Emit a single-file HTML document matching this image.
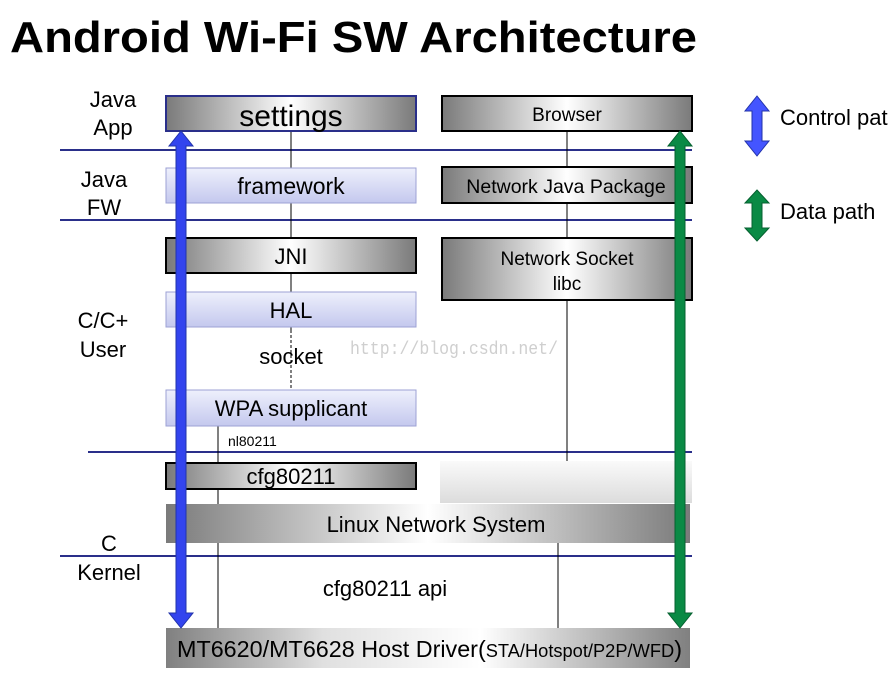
<!DOCTYPE html>
<html><head><meta charset="utf-8"><style>
html,body{margin:0;padding:0;background:#fff;}
svg{display:block;font-family:"Liberation Sans",Arial,sans-serif;}
</style></head><body>
<svg width="890" height="673" viewBox="0 0 890 673" xmlns="http://www.w3.org/2000/svg">
<defs>
<linearGradient id="gh" x1="0" x2="1" y1="0" y2="0">
<stop offset="0" stop-color="#7a7a7a"/><stop offset="0.5" stop-color="#ffffff"/><stop offset="1" stop-color="#7a7a7a"/>
</linearGradient>
<linearGradient id="gh2" x1="0" x2="1" y1="0" y2="0">
<stop offset="0" stop-color="#808080"/><stop offset="0.3" stop-color="#e0e0e0"/><stop offset="0.6" stop-color="#ffffff"/><stop offset="1" stop-color="#808080"/>
</linearGradient>
<linearGradient id="gl" x1="0" x2="0" y1="0" y2="1">
<stop offset="0" stop-color="#fafafa"/><stop offset="1" stop-color="#dcdcdc"/>
</linearGradient>
<linearGradient id="gb" x1="0" x2="0" y1="0" y2="1">
<stop offset="0" stop-color="#eef0fc"/><stop offset="1" stop-color="#c4c8ee"/>
</linearGradient>
</defs>
<text x="10" y="52" font-size="44" font-weight="bold" textLength="687" lengthAdjust="spacingAndGlyphs" fill="#000">Android Wi-Fi SW Architecture</text>

<g stroke="#2a2f8a" stroke-width="2">
<line x1="60" y1="150" x2="692" y2="150"/>
<line x1="60" y1="220" x2="692" y2="220"/>
<line x1="88" y1="452" x2="692" y2="452"/>
<line x1="60" y1="556" x2="692" y2="556"/>
</g>

<g stroke="#000" stroke-width="1">
<line x1="291" y1="131" x2="291" y2="330"/>
<line x1="291" y1="330" x2="291" y2="390" stroke-dasharray="3,2"/>
<line x1="567" y1="131" x2="567" y2="461"/>
<line x1="218" y1="426" x2="218" y2="628"/>
<line x1="558" y1="543" x2="558" y2="628"/>
</g>

<rect x="166" y="96" width="250" height="35" fill="url(#gh)" stroke="#2a2f8a" stroke-width="2"/>
<text x="291" y="126" font-size="30" text-anchor="middle">settings</text>
<rect x="166" y="168" width="250" height="35" fill="url(#gb)" stroke="#9da2d4" stroke-width="1"/>
<text x="291" y="194" font-size="23" text-anchor="middle">framework</text>
<rect x="166" y="238" width="250" height="35" fill="url(#gh)" stroke="#000" stroke-width="2"/>
<text x="291" y="264" font-size="22" text-anchor="middle">JNI</text>
<rect x="166" y="292" width="250" height="35" fill="url(#gb)" stroke="#9da2d4" stroke-width="1"/>
<text x="291" y="318" font-size="22" text-anchor="middle">HAL</text>
<text x="291" y="364" font-size="22" text-anchor="middle">socket</text>
<rect x="166" y="390" width="250" height="36" fill="url(#gb)" stroke="#9da2d4" stroke-width="1"/>
<text x="291" y="416" font-size="22" text-anchor="middle">WPA supplicant</text>
<text x="228" y="446" font-size="14">nl80211</text>
<rect x="166" y="463" width="250" height="26" fill="url(#gh)" stroke="#000" stroke-width="2"/>
<text x="291" y="484" font-size="22" text-anchor="middle">cfg80211</text>

<rect x="442" y="96" width="250" height="35" fill="url(#gh)" stroke="#000" stroke-width="2"/>
<text x="567" y="121" font-size="19" text-anchor="middle">Browser</text>
<rect x="442" y="167" width="250" height="36" fill="url(#gh)" stroke="#000" stroke-width="2"/>
<text x="566" y="193" font-size="19.5" text-anchor="middle">Network Java Package</text>
<rect x="442" y="238" width="250" height="62" fill="url(#gh)" stroke="#000" stroke-width="2"/>
<text x="567" y="265" font-size="19" text-anchor="middle">Network Socket</text>
<text x="567" y="290" font-size="19" text-anchor="middle">libc</text>
<rect x="440" y="461" width="252" height="42" fill="url(#gl)"/>

<rect x="166" y="504" width="524" height="39" fill="url(#gh)"/>
<text x="436" y="532" font-size="22" text-anchor="middle">Linux Network System</text>
<text x="385" y="596" font-size="22" text-anchor="middle">cfg80211 api</text>
<rect x="166" y="628" width="524" height="40" fill="url(#gh2)"/>
<text x="177" y="657" font-size="23" textLength="505" lengthAdjust="spacingAndGlyphs">MT6620/MT6628 Host Driver(<tspan font-size="18">STA/Hotspot/P2P/WFD</tspan>)</text>

<text x="350" y="354" font-size="18" fill="#cfcfcf" font-family="Liberation Mono,monospace" textLength="208" lengthAdjust="spacingAndGlyphs">http://blog.csdn.net/</text>

<g font-size="22" text-anchor="middle" fill="#000">
<text x="113" y="107">Java</text><text x="113" y="135">App</text>
<text x="104" y="187">Java</text><text x="104" y="215">FW</text>
<text x="103" y="328">C/C+</text><text x="103" y="357">User</text>
<text x="109" y="551">C</text><text x="109" y="580">Kernel</text>
</g>

<polygon points="181,131 193,146 186,146 186,613 193,613 181,628 169,613 176,613 176,146 169,146" fill="#3344ee" stroke="#2233aa" stroke-width="1"/>
<polygon points="680,131 692,146 685,146 685,613 692,613 680,628 668,613 675,613 675,146 668,146" fill="#0a8a45" stroke="#066030" stroke-width="1"/>

<polygon points="757,96 769,111 762,111 762,141 769,141 757,156 745,141 752,141 752,111 745,111" fill="#4455ff" stroke="#2233aa" stroke-width="1"/>
<text x="780" y="125" font-size="22">Control pat</text>
<polygon points="757,190 769,203 762,203 762,228 769,228 757,241 745,228 752,228 752,203 745,203" fill="#0a8a45" stroke="#066030" stroke-width="1"/>
<text x="780" y="219" font-size="22">Data path</text>
</svg>
</body></html>
